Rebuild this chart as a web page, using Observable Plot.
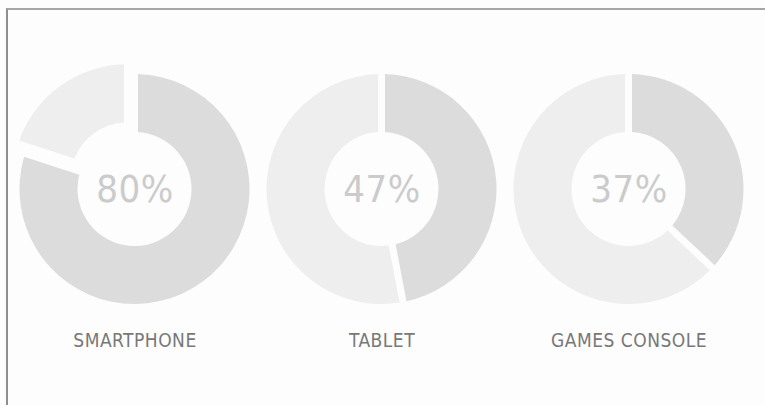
<!DOCTYPE html>
<html>
<head>
<meta charset="utf-8">
<script src="https://cdn.jsdelivr.net/npm/d3@7"></script>
<script src="https://cdn.jsdelivr.net/npm/@observablehq/plot@0.6"></script>
<style>
  body { margin: 0; background: #fdfdfd; }
  #chart { position: relative; width: 765px; height: 405px; }
  #chart .edge {
    position: absolute; left: 6px; top: 8px; right: 0; bottom: 0;
    border-top: 2px solid #a6a6a6; border-left: 2px solid #8f8f8f;
    pointer-events: none;
  }
</style>
</head>
<body>
<div id="chart"><div class="edge"></div></div>
<script>
// Share of people using each device
const devices = ["SMARTPHONE", "TABLET", "GAMES CONSOLE"];
const shares = [80, 47, 37];

const rows = devices.map((device, i) => ({device, share: shares[i]}));

// Ring geometry and styling
const R_OUTER = 115;
const R_INNER = 57;
const GAP = 7;             // width of the white gap between slices
const EXPLODE = 12;        // outward shift of the pulled-out remainder slice
const EXPLODED = "SMARTPHONE";
const DARK = "#dcdcdc";
const LIGHT = "#eeeeee";
const FONT = "'Liberation Sans Narrow', 'DejaVu Sans Condensed', sans-serif";

// Custom render mark: one donut per device, centred on its x band
function donuts(index, scales, values, dimensions) {
  const x = scales.x;
  const bw = typeof x.bandwidth === "function" ? x.bandwidth() : (scales.scales?.x?.bandwidth ?? 0);
  const cy = dimensions.marginTop + R_OUTER;
  const arc = d3.arc()
    .innerRadius(R_INNER)
    .outerRadius(R_OUTER)
    .padRadius(R_OUTER)
    .padAngle(GAP / R_OUTER);
  const g = d3.create("svg:g");
  for (const d of rows) {
    const cx = x(d.device) + bw / 2;
    const split = d.share / 100 * 2 * Math.PI;
    const slices = [
      {startAngle: 0, endAngle: split, fill: DARK, shift: 0},
      {startAngle: split, endAngle: 2 * Math.PI, fill: LIGHT, shift: d.device === EXPLODED ? EXPLODE : 0}
    ];
    const donut = g.append("g").attr("transform", `translate(${cx},${cy})`);
    for (const s of slices) {
      const mid = (s.startAngle + s.endAngle) / 2;
      donut.append("path")
        .attr("d", arc(s))
        .attr("fill", s.fill)
        .attr("transform", `translate(${Math.sin(mid) * s.shift},${-Math.cos(mid) * s.shift})`);
    }
  }
  return g.node();
}

const chart = Plot.plot({
  width: 765,
  height: 405,
  marginTop: 74,
  marginBottom: 75,
  marginLeft: 10,
  marginRight: 12,
  style: {
    background: "transparent",
    fontFamily: FONT,
    fontSize: "19px",
    color: "#787878",
    letterSpacing: "0.5px"
  },
  x: {type: "band", domain: devices, padding: 0, tickSize: 0, tickPadding: 3, label: null},
  marks: [
    donuts,
    Plot.text(rows, {
      x: "device",
      text: d => `${d.share}%`,
      frameAnchor: "top",
      dy: R_OUTER,
      lineAnchor: "middle",
      fontSize: 38,
      fill: "#cbcbcb",
      fontFamily: FONT
    })
  ]
});

document.getElementById("chart").prepend(chart);
</script>
</body>
</html>
